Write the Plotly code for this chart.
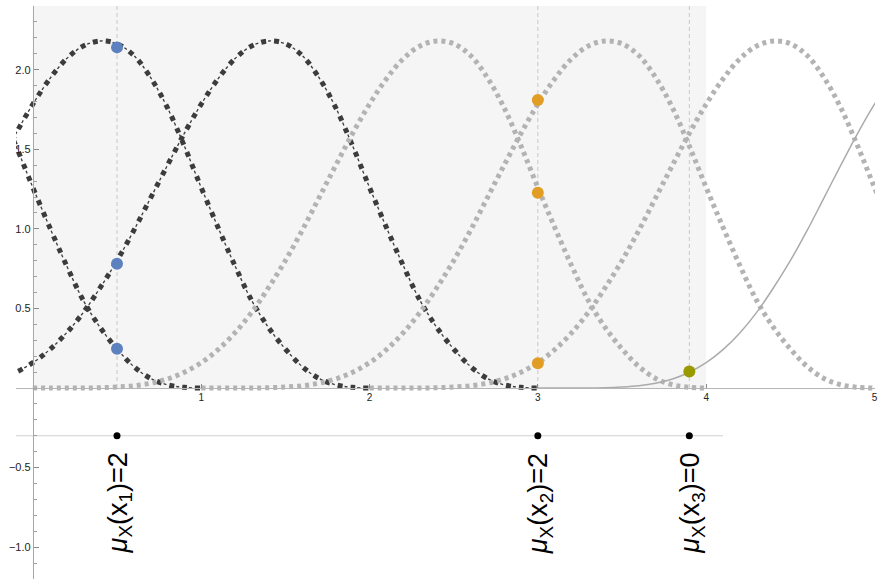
import plotly.graph_objects as go

# ---- data ----
# common bump profile: offset t from a curve's start, and height
profile_t = [0.0, 0.1, 0.2, 0.3, 0.4, 0.5, 0.6, 0.7, 0.8, 0.9,
             1.0, 1.1, 1.2, 1.3, 1.4, 1.5, 1.6, 1.7, 1.8, 1.9,
             2.0, 2.1, 2.2, 2.3, 2.4, 2.5, 2.6, 2.7, 2.8, 2.9,
             3.0, 3.1, 3.2, 3.3, 3.4, 3.5, 3.6, 3.7, 3.8, 3.9, 4.0]
profile_y = [0.0, 0.0, 0.0, 0.0003, 0.0015, 0.006, 0.014, 0.03, 0.057, 0.099,
             0.159, 0.241, 0.346, 0.475, 0.63, 0.80, 0.99, 1.195, 1.40, 1.60,
             1.783, 1.942, 2.068, 2.149, 2.18, 2.163, 2.089, 1.95, 1.76, 1.52,
             1.26, 1.01, 0.77, 0.55, 0.38, 0.245, 0.135, 0.06, 0.02, 0.004, 0.0]

dark_starts = [-3, -2, -1]      # dash-dot curves
dotted_starts = [0, 1, 2]       # gray dotted curves
solid_starts = [3]              # solid gray curve

# sample points
x1_pos = [0.5, 0.5, 0.5]
x1_vals = [2.14, 0.78, 0.246]
x2_pos = [3.0, 3.0, 3.0]
x2_vals = [1.81, 1.227, 0.156]
x3_pos = [3.9]
x3_vals = [0.104]

marker_x = [0.5, 3.0, 3.9]
marker_y = [-0.3, -0.3, -0.3]
marker_labels = ["<i>μ</i><sub>X</sub>(x<sub>1</sub>)=2",
                 "<i>μ</i><sub>X</sub>(x<sub>2</sub>)=2",
                 "<i>μ</i><sub>X</sub>(x<sub>3</sub>)=0"]
label_y = -0.725

window_x = [0, 4]
x_range = [-0.1, 5.003]
y_range = [-1.2, 2.4]
ref_line_x = [-0.1, 4.1]

y_tickvals = [-1.0, -0.5, 0.5, 1.0, 1.5, 2.0]
y_ticktext = ["−1.0", "−0.5", "0.5", "1.0", "1.5", "2.0"]
x_tickvals = [1, 2, 3, 4, 5]
x_ticktext = ["1", "2", "3", "4", "5"]

DARK = "#3c3c3c"
GRAY = "#b3b3b3"

fig = go.Figure()

def shifted(start):
    return [start + t for t in profile_t]

for s in dark_starts:
    xs = shifted(s)
    fig.add_trace(go.Scatter(x=xs, y=profile_y, mode="lines", line_shape="spline",
                             line=dict(color=DARK, width=5, dash="5px,8px"),
                             hoverinfo="skip", showlegend=False))
    fig.add_trace(go.Scatter(x=xs, y=profile_y, mode="lines", line_shape="spline",
                             line=dict(color=DARK, width=1.3, dash="0px,7px,3px,3px"),
                             hoverinfo="skip", showlegend=False))

for s in dotted_starts:
    fig.add_trace(go.Scatter(x=shifted(s), y=profile_y, mode="lines", line_shape="spline",
                             line=dict(color=GRAY, width=5, dash="4px,4px"),
                             hoverinfo="skip", showlegend=False))

for s in solid_starts:
    fig.add_trace(go.Scatter(x=shifted(s), y=profile_y, mode="lines", line_shape="spline",
                             line=dict(color="#ababab", width=1.5),
                             hoverinfo="skip", showlegend=False))

fig.add_trace(go.Scatter(x=x1_pos, y=x1_vals, mode="markers",
                         marker=dict(color="#5d81bf", size=12), showlegend=False))
fig.add_trace(go.Scatter(x=x2_pos, y=x2_vals, mode="markers",
                         marker=dict(color="#e29d25", size=12), showlegend=False))
fig.add_trace(go.Scatter(x=x3_pos, y=x3_vals, mode="markers",
                         marker=dict(color="#999a00", size=12), showlegend=False))
fig.add_trace(go.Scatter(x=marker_x, y=marker_y, mode="markers",
                         marker=dict(color="black", size=7), showlegend=False))

shapes = [dict(type="rect", xref="x", yref="y", x0=window_x[0], x1=window_x[1],
               y0=0, y1=y_range[1], fillcolor="#f5f5f5", line=dict(width=0), layer="below")]
for xv in marker_x:
    shapes.append(dict(type="line", xref="x", yref="y", x0=xv, x1=xv, y0=0, y1=y_range[1],
                       line=dict(color="#c8c8c8", width=1, dash="4px,3px"), layer="below"))
shapes.append(dict(type="line", xref="x", yref="y", x0=ref_line_x[0], x1=ref_line_x[1],
                   y0=marker_y[0], y1=marker_y[0], line=dict(color="#d0d0d0", width=1),
                   layer="below"))

annotations = []
for xv, txt in zip(marker_x, marker_labels):
    annotations.append(dict(x=xv, y=label_y, xref="x", yref="y", text=txt, textangle=-90,
                            showarrow=False, xanchor="center", yanchor="middle", xshift=3,
                            font=dict(family="Liberation Sans, Arial", size=27, color="black")))

fig.update_layout(
    width=878, height=579,
    margin=dict(l=16, r=3, t=6, b=0),
    paper_bgcolor="white", plot_bgcolor="white",
    shapes=shapes, annotations=annotations,
    showlegend=False,
    xaxis=dict(range=x_range, showgrid=False, zeroline=False, showline=True,
               linecolor="#b5b5b5", linewidth=1, anchor="free", position=1.2 / 3.6,
               tickvals=x_tickvals, ticktext=x_ticktext, ticks="inside", ticklen=4,
               tickcolor="#8a8a8a", tickfont=dict(family="Liberation Sans, Arial", size=10,
                                                   color="#222")),
    yaxis=dict(range=y_range, showgrid=False, zeroline=False, showline=True,
               linecolor="#a8a8a8", linewidth=1, anchor="free", position=0.1 / 5.103,
               tickvals=y_tickvals, ticktext=y_ticktext, ticks="inside", ticklen=5,
               tickcolor="#8a8a8a",
               minor=dict(ticks="inside", ticklen=3, dtick=0.1, tick0=0, tickcolor="#a0a0a0",
                          showgrid=False),
               tickfont=dict(family="Liberation Sans, Arial", size=11, color="#222")),
)

fig.write_html("out.html", config={"displayModeBar": False},
               post_script="document.body.style.margin='0';document.body.style.overflow='hidden';")
